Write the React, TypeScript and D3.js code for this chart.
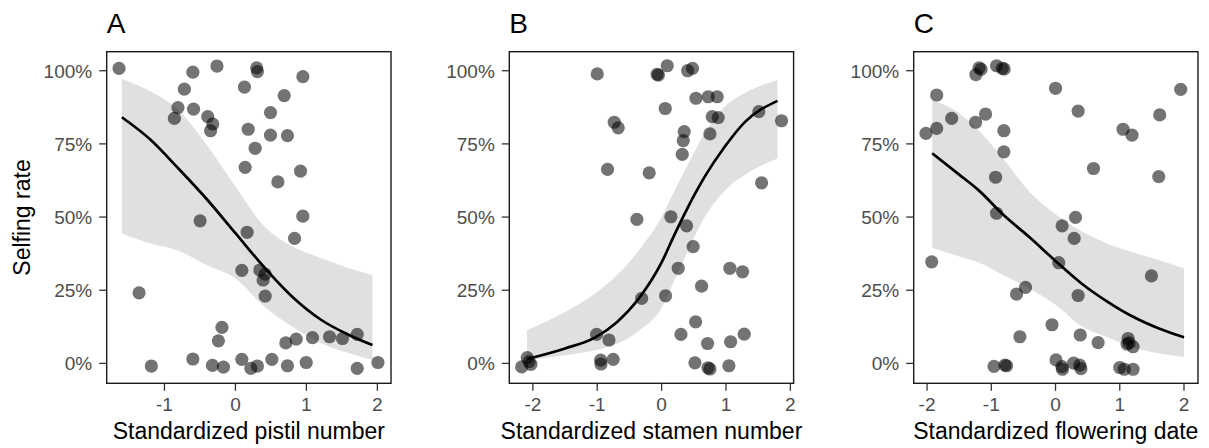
import React from "react";
import * as d3 from "d3";

// ---------- data ----------
const panelTags = ["A", "B", "C"];
const xTitles = [
  "Standardized pistil number",
  "Standardized stamen number",
  "Standardized flowering date",
];
const yTickValues = [0, 0.25, 0.5, 0.75, 1];
const yTickLabels = ["0%", "25%", "50%", "75%", "100%"];
const xTicksA = [-1, 0, 1, 2];
const xTicksB = [-2, -1, 0, 1, 2];
const xTicksC = [-2, -1, 0, 1, 2];

// Panel A – pistil number
const aPointX = [-1.64, -0.6, -0.26, 0.3, 0.31, 0.95, -0.72, 0.127, 0.687, -0.81, -0.59, -0.86, -0.39, -0.32, -0.35, 0.494, 0.18, 0.494, 0.733, 0.278, 0.137, 0.917, 0.598, 0.95, -0.498, 0.165, 0.833, 0.09, 0.344, 0.419, 0.39, 0.419, -1.358, -0.19, -0.24, 0.71, 0.856, 1.086, 1.326, 1.509, 1.716, -1.185, -0.6, -0.324, -0.169, 0.09, 0.217, 0.31, 0.513, 0.733, 0.997, 1.716, 2.008];
const aPointY = [1.008, 0.995, 1.016, 1.01, 0.997, 0.98, 0.937, 0.944, 0.915, 0.874, 0.869, 0.837, 0.843, 0.818, 0.795, 0.857, 0.8, 0.78, 0.778, 0.735, 0.67, 0.657, 0.62, 0.503, 0.487, 0.448, 0.427, 0.318, 0.319, 0.305, 0.285, 0.23, 0.241, 0.123, 0.077, 0.07, 0.083, 0.088, 0.091, 0.085, 0.099, -0.009, 0.015, -0.007, -0.013, 0.014, -0.017, -0.009, 0.014, -0.008, 0.003, -0.017, 0.003];
const aCurveX = [-1.6, -1.2, -0.8, -0.4, 0, 0.4, 0.8, 1.2, 1.6, 1.93];
const aFit = [0.841, 0.765, 0.665, 0.56, 0.445, 0.33, 0.228, 0.15, 0.097, 0.0625];
const aLow = [0.444, 0.41, 0.385, 0.335, 0.29, 0.195, 0.125, 0.07, 0.035, 0.012];
const aHigh = [0.972, 0.93, 0.865, 0.745, 0.604, 0.47, 0.4, 0.36, 0.325, 0.302];

// Panel B – stamen number
const bPointX = [-1.0, -0.07, -0.05, 0.087, 0.404, 0.48, 0.533, 0.724, 0.863, 0.056, 0.786, 0.879, 1.51, 1.863, -0.736, -0.674, 0.351, 0.336, 0.32, 0.75, -0.84, -0.193, 1.553, -0.384, 0.144, 0.388, 0.49, 0.258, 1.06, 1.257, 0.621, -0.31, 0.062, 0.528, 0.3, 1.283, 0.714, 1.072, -1.01, -0.818, -0.947, -0.942, -0.752, -2.087, -2.174, -2.03, -2.06, 0.517, 0.72, 0.75, 1.045];
const bPointY = [0.989, 0.988, 0.985, 1.017, 1.0, 1.008, 0.906, 0.911, 0.911, 0.871, 0.843, 0.84, 0.86, 0.829, 0.824, 0.805, 0.792, 0.761, 0.714, 0.784, 0.663, 0.651, 0.617, 0.492, 0.501, 0.47, 0.399, 0.325, 0.325, 0.313, 0.264, 0.222, 0.231, 0.142, 0.099, 0.1, 0.068, 0.074, 0.099, 0.08, 0.011, -0.002, 0.014, 0.02, -0.012, -0.003, 0.006, 0.002, -0.015, -0.019, -0.008];
const bCurveX = [-2.09, -1.5, -1.03, -0.7, -0.36, 0, 0.2, 0.4, 0.67, 0.98, 1.3, 1.8];
const bFit = [0.015, 0.051, 0.089, 0.14, 0.22, 0.345, 0.44, 0.53, 0.638, 0.74, 0.826, 0.897];
const bLow = [0.011, 0.028, 0.045, 0.066, 0.11, 0.19, 0.285, 0.38, 0.5, 0.59, 0.645, 0.7];
const bHigh = [0.114, 0.176, 0.239, 0.3, 0.385, 0.5, 0.59, 0.675, 0.786, 0.877, 0.925, 0.968];

// Panel C – flowering date
const cPointX = [-1.24, -1.19, -1.16, -0.918, -0.83, -0.8, 0.0, 1.949, -1.85, 0.352, 1.622, -1.617, -1.089, -1.244, -2.017, -1.85, -0.804, 1.051, 1.191, -0.804, 0.591, 1.607, -0.933, -0.918, 0.311, 0.103, 0.29, 0.05, -1.928, 1.493, -0.467, -0.607, 0.352, -0.055, -0.555, 0.385, 0.663, 1.13, 1.145, 1.207, 1.114, -0.958, -0.788, -0.762, 0.008, 0.1, 0.108, 0.282, 0.378, 0.395, 1.0, 1.07, 1.207];
const cPointY = [0.987, 1.01, 1.005, 1.017, 1.008, 1.006, 0.94, 0.936, 0.917, 0.862, 0.849, 0.837, 0.852, 0.824, 0.786, 0.803, 0.795, 0.8, 0.78, 0.723, 0.666, 0.638, 0.636, 0.513, 0.499, 0.47, 0.427, 0.344, 0.347, 0.299, 0.26, 0.237, 0.232, 0.132, 0.091, 0.097, 0.071, 0.085, 0.07, 0.057, 0.066, -0.01, -0.006, -0.008, 0.012, -0.011, -0.02, 0.001, -0.006, -0.018, -0.014, -0.02, -0.02];
const cCurveX = [-1.92, -1.5, -1.2, -0.8, -0.4, 0, 0.4, 0.8, 1.2, 1.6, 2.0];
const cFit = [0.718, 0.645, 0.592, 0.505, 0.43, 0.35, 0.274, 0.212, 0.16, 0.12, 0.089];
const cLow = [0.395, 0.365, 0.345, 0.3, 0.255, 0.2, 0.128, 0.09, 0.055, 0.035, 0.022];
const cHigh = [0.9, 0.855, 0.797, 0.695, 0.585, 0.51, 0.452, 0.41, 0.38, 0.353, 0.325];

// ---------- layout ----------
const W = 1209;
const H = 448;
const FONT = "'Liberation Sans', Arial, Helvetica, sans-serif";
const plotLefts = [106.7, 509.3, 913.7];
const plotW = 284.3;
const plotTop = 51.7;
const plotBottom = 383.3;
const xDomains = [
  [-1.814, 2.192],
  [-2.366, 2.05],
  [-2.208, 2.218],
];
const yDomain = [-0.068, 1.065];

const panels = [
  { px: aPointX, py: aPointY, cx: aCurveX, fit: aFit, lo: aLow, hi: aHigh, ticks: xTicksA },
  { px: bPointX, py: bPointY, cx: bCurveX, fit: bFit, lo: bLow, hi: bHigh, ticks: xTicksB },
  { px: cPointX, py: cPointY, cx: cCurveX, fit: cFit, lo: cLow, hi: cHigh, ticks: xTicksC },
];

function Panel({ i }: { i: number }) {
  const p = panels[i];
  const left = plotLefts[i];
  const x = d3.scaleLinear().domain(xDomains[i]).range([left, left + plotW]);
  const y = d3.scaleLinear().domain(yDomain).range([plotBottom, plotTop]);
  const curveType = d3.curveMonotoneX;
  const idx = p.cx.map((_, k) => k);
  const area = d3
    .area<number>()
    .x((k) => x(p.cx[k]))
    .y0((k) => y(p.lo[k]))
    .y1((k) => y(p.hi[k]))
    .curve(curveType);
  const line = d3
    .line<number>()
    .x((k) => x(p.cx[k]))
    .y((k) => y(p.fit[k]))
    .curve(curveType);
  const tickLen = 7.5;
  const tickColor = "#333333";
  const labelColor = "#4d4d4d";
  return (
    <g>
      <text x={left} y={33.3} fontFamily={FONT} fontSize={28} fill="#000">
        {panelTags[i]}
      </text>
      <path d={area(idx) || ""} fill="#999999" fillOpacity={0.3} stroke="none" />
      {p.px.map((v, k) => (
        <circle key={k} cx={x(v)} cy={y(p.py[k])} r={6.6} fill="#000" fillOpacity={0.55} />
      ))}
      <path d={line(idx) || ""} fill="none" stroke="#000" strokeWidth={2.7} strokeLinejoin="round" />
      <rect
        x={left}
        y={plotTop}
        width={plotW}
        height={plotBottom - plotTop}
        fill="none"
        stroke="#1a1a1a"
        strokeWidth={1.4}
      />
      {yTickValues.map((v, k) => (
        <g key={"y" + k}>
          <line x1={left - tickLen} x2={left} y1={y(v)} y2={y(v)} stroke={tickColor} strokeWidth={1.3} />
          <text
            x={left - 14.5}
            y={y(v)}
            dy="0.36em"
            textAnchor="end"
            fontFamily={FONT}
            fontSize={19}
            fill={labelColor}
          >
            {yTickLabels[k]}
          </text>
        </g>
      ))}
      {p.ticks.map((v, k) => (
        <g key={"x" + k}>
          <line x1={x(v)} x2={x(v)} y1={plotBottom} y2={plotBottom + tickLen} stroke={tickColor} strokeWidth={1.3} />
          <text
            x={x(v)}
            y={410.8}
            textAnchor="middle"
            fontFamily={FONT}
            fontSize={19}
            fill={labelColor}
          >
            {String(v)}
          </text>
        </g>
      ))}
      <text
        x={left + plotW / 2}
        y={439.3}
        textAnchor="middle"
        fontFamily={FONT}
        fontSize={23}
        fill="#000"
      >
        {xTitles[i]}
      </text>
    </g>
  );
}

export default function App() {
  return (
    <div style={{ position: "absolute", left: 0, top: 0 }}>
      <svg width={W} height={H} viewBox={`0 0 ${W} ${H}`} style={{ display: "block", background: "#fff" }}>
        <rect x={0} y={0} width={W} height={H} fill="#fff" />
        {panels.map((_, i) => (
          <Panel key={i} i={i} />
        ))}
        <text
          transform={`translate(30, ${(plotTop + plotBottom) / 2}) rotate(-90)`}
          textAnchor="middle"
          fontFamily={FONT}
          fontSize={23}
          fill="#000"
        >
          Selfing rate
        </text>
      </svg>
    </div>
  );
}
